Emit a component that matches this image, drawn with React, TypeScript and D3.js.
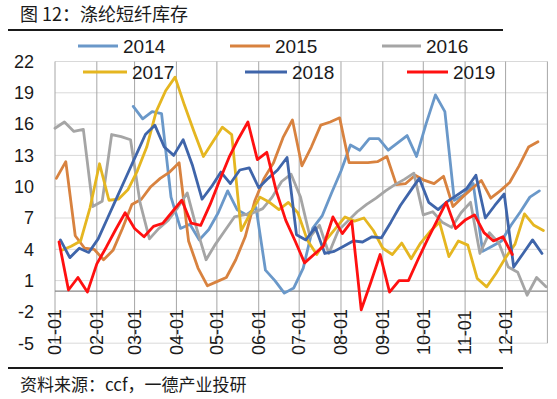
import * as React from 'react';
import * as d3 from 'd3';

// weekly readings, one list per year, starting at that year's first reported Friday
const years = ['2014', '2015', '2016', '2017', '2018', '2019'];
const firstWeek = ['2014-02-28', '2015-01-02', '2016-01-01', '2017-01-06', '2018-01-05', '2019-01-04'];
const colors = ['#6a98c9', '#d8823f', '#a5a5a5', '#e5b620', '#3f65aa', '#ff1010'];

const v2014 = [17.7, 16.5, 17.2, 17.0, 9.0, 6.0, 6.4, 4.9, 5.9, 7.5, 9.6, 7.8, 7.3, 8.0, 2.0, 1.0, -0.2, 0.3, 2.2, 6.0,
    7.2, 9.4, 11.5, 14.0, 13.5, 14.6, 14.6, 13.5, 14.2, 14.9, 12.9, 16.0, 18.8, 17.2, 8.7, 9.2, 10.3, 3.8, 4.3, 4.8,
    6.3, 7.6, 9.0, 9.6];
const v2015 = [10.8, 12.4, 5.3, 4.1, 4.0, 3.0, 3.9, 6.0, 8.3, 8.8, 10.0, 10.8, 11.4, 12.3, 4.8, 2.2, 0.5, 0.9, 1.3, 3.0,
    5.2, 8.6, 10.8, 12.3, 14.7, 16.4, 12.0, 13.8, 15.9, 16.2, 16.6, 12.3, 12.3, 12.3, 12.4, 12.9, 10.2, 10.3, 11.1, 10.6,
    10.3, 11.0, 8.1, 9.0, 9.8, 10.6, 8.9, 9.6, 10.4, 12.0, 13.8, 14.3];
const v2016 = [15.6, 16.2, 15.3, 15.5, 8.1, 8.6, 15.0, 14.8, 14.5, 8.5, 5.0, 6.0, 6.8, 8.0, 9.4, 6.0, 3.0, 4.5, 5.8, 7.1,
    7.3, 7.5, 7.9, 9.0, 10.5, 11.2, 9.0, 5.2, 6.3, 3.6, 5.8, 6.7, 7.6, 8.3, 8.9, 9.6, 10.2, 10.7, 11.3, 7.3,
    7.6, 6.6, 6.1, 7.5, 8.5, 3.6, 5.6, 4.6, 2.3, 1.8, -0.4, 1.3, 0.4];
const v2017 = [3.9, 4.3, 4.8, 8.0, 12.2, 8.7, 8.8, 9.7, 11.5, 13.8, 17.2, 19.2, 20.5, 17.8, 15.3, 12.9, 14.3, 15.7, 15.0, 5.8,
    7.5, 9.0, 8.5, 7.8, 8.5, 7.5, 4.9, 3.5, 4.9, 6.0, 7.1, 6.7, 7.0, 5.8, 4.1, 3.5, 4.6, 3.1, 4.6, 5.7,
    6.6, 3.3, 4.8, 4.4, 1.2, 0.4, 1.7, 3.2, 4.5, 7.4, 6.3, 5.8];
const v2018 = [4.9, 3.2, 4.1, 3.7, 5.0, 7.0, 9.0, 11.0, 13.0, 15.0, 15.9, 13.8, 13.0, 14.5, 12.0, 8.8, 10.0, 11.4, 10.3, 11.6,
    11.8, 9.9, 10.8, 11.6, 12.8, 5.4, 4.9, 6.1, 3.6, 3.8, 4.3, 4.8, 4.7, 5.2, 5.1, 6.6, 8.2, 9.5, 10.8, 8.5,
    7.8, 8.6, 9.2, 9.8, 11.1, 7.0, 8.2, 9.3, 2.3, 3.6, 4.9, 3.6];
const v2019 = [4.7, 0.1, 1.3, -0.1, 2.6, 4.2, 5.9, 7.5, 6.0, 5.2, 6.2, 6.5, 7.6, 8.7, 6.5, 6.3, 8.3, 10.6, 12.8, 14.6,
    16.2, 12.6, 13.3, 9.6, 6.8, 4.8, 2.7, 3.5, 4.3, 7.1, 5.5, 6.7, -1.8, 0.8, 3.5, -0.1, 1.0, 1.0, 3.0, 4.9,
    6.7, 8.5, 6.0, 6.8, 7.3, 5.6, 4.8, 5.2, 3.5];
const seriesValues = [v2014, v2015, v2016, v2017, v2018, v2019];

const yTicks = [-5, -2, 1, 4, 7, 10, 13, 16, 19, 22];
const monthLabels = ['01-01', '02-01', '03-01', '04-01', '05-01', '06-01', '07-01', '08-01', '09-01', '10-01', '11-01', '12-01'];

const W = 557;
const H = 399;
const plot = { left: 55, right: 547.4, top: 61.5, bottom: 343.2 };

const axisYear = 2019;
const xScale = d3.scaleTime()
    .domain([new Date(axisYear, 0, 1), new Date(axisYear + 1, 0, 1)])
    .range([plot.left, plot.right]);
const yScale = d3.scaleLinear().domain([-5, 22]).range([plot.bottom, plot.top]);

const parse = d3.timeParse('%Y-%m-%d');
// move a date of any year onto the shared Jan..Dec axis
const onAxis = (d: Date) => d3.timeDay.offset(new Date(axisYear, 0, 1), d3.timeDay.count(d3.timeYear(d), d));

// legend layout: [line start, line end, row y]
const legendPos = [[78, 118, 46], [230, 270, 46], [382, 421, 46], [83, 127, 72], [245, 287, 72], [407, 448, 72]];

const latin = '"Liberation Sans", Arial, sans-serif';
const cjk = '"Noto Sans CJK SC", "Liberation Sans", sans-serif';

export default function App() {
    const line = d3.line<[Date, number]>().x(d => xScale(d[0])).y(d => yScale(d[1]));

    const series = years.map((yr, i) => {
        const start = parse(firstWeek[i])!;
        const pts = seriesValues[i].map((v, k) => [onAxis(d3.timeWeek.offset(start, k)), v] as [Date, number]);
        return { yr, color: colors[i], path: line(pts) || '' };
    });

    const gridMonths = d3.range(13).map(m => new Date(axisYear, m, 1));

    return (
        <div style={{ position: 'absolute', left: 0, top: 0 }}>
            <svg width={W} height={H} style={{ display: 'block', background: '#fff' }}>
                <text x={20} y={21} fontFamily={cjk} fontSize={18} fill="#1a1a1a">图 12：涤纶短纤库存</text>
                <line x1={8} x2={503} y1={30} y2={30} stroke="#1a1a1a" strokeWidth={2} />

                {yTicks.map(t => (
                    <g key={t}>
                        <line x1={plot.left} x2={plot.right} y1={yScale(t)} y2={yScale(t)} stroke="#d9d9d9" strokeWidth={1} />
                        <text x={34} y={yScale(t)} dy="0.35em" textAnchor="end" fontFamily={latin} fontSize={18} fill="#1a1a1a">{t}</text>
                    </g>
                ))}
                {gridMonths.map((m, i) => (
                    <line key={i} x1={xScale(m)} x2={xScale(m)} y1={plot.top} y2={plot.bottom} stroke="#a6a6a6" strokeWidth={1} />
                ))}
                <line x1={plot.left} x2={plot.right} y1={yScale(0)} y2={yScale(0)} stroke="#868686" strokeWidth={1.2} />

                {monthLabels.map((lab, i) => (
                    <text key={lab} transform={`translate(${xScale(new Date(axisYear, i, 1))}, 355) rotate(-90)`}
                          dy="0.35em" fontFamily={latin} fontSize={18} fill="#1a1a1a">{lab}</text>
                ))}

                {series.map(s => (
                    <path key={s.yr} d={s.path} fill="none" stroke={s.color} strokeWidth={2.8}
                          strokeLinejoin="round" strokeLinecap="round" />
                ))}

                {series.map((s, i) => {
                    const [x0, x1, ly] = legendPos[i];
                    return (
                        <g key={s.yr}>
                            <line x1={x0} x2={x1} y1={ly} y2={ly} stroke={s.color} strokeWidth={3} />
                            <text x={x1 + 5} y={ly} dy="0.35em" fontFamily={latin} fontSize={19} fill="#1a1a1a">{s.yr}</text>
                        </g>
                    );
                })}

                <line x1={8} x2={503} y1={368} y2={368} stroke="#1a1a1a" strokeWidth={2} />
                <text x={20} y={391} fontFamily={cjk} fontSize={17} fill="#1a1a1a">资料来源：ccf，一德产业投研</text>
            </svg>
        </div>
    );
}
